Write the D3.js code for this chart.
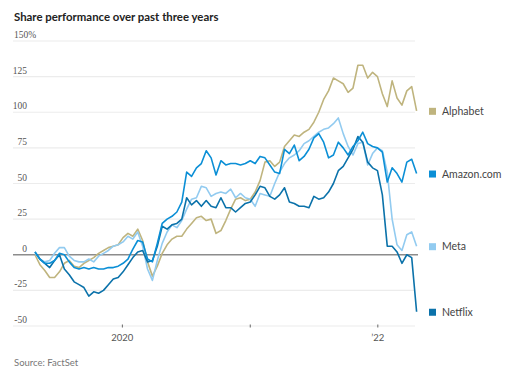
<!DOCTYPE html>
<html><head><meta charset="utf-8">
<script src="https://cdn.jsdelivr.net/npm/d3@7/dist/d3.min.js"></script>
<style>
html,body{margin:0;padding:0;background:#fff;}
svg{display:block;}
</style></head>
<body>
<svg id="chart" width="528" height="376"></svg>
<script>
// Biweekly observations from 2019-04-26 to 2022-04-26 (79 points)
const startDate = "2019-04-26";
const stepDays = 14;
const seriesNames = ["Alphabet", "Amazon.com", "Meta", "Netflix"];
const alphabet = [0,-7,-11,-16,-16,-12,-6,-4,-8,-9,-6,-4,-2,1,3,5,6,7,12,15,13,18,10,-5,-15,-8,1,7,11,13,13,18,22,26,27,24,25,15,17,24,32,39,40,38,39,44,52,65,66,62,65,76,80,84,83,86,88,93,100,109,115,124,122,120,114,117,133,133,124,128,125,113,104,122,110,105,115,118,101];
const amazon = [2,-3,-6,-6,-4,1,0,-5,-9,-10,-9,-10,-9,-10,-10,-9,-9,-8,-6,-3,4,10,9,-3,-5,8,22,25,27,30,37,58,55,61,64,73,68,56,66,63,64,64,63,64,66,64,69,68,63,58,57,74,71,77,66,69,74,82,85,79,68,70,79,75,70,76,80,86,78,76,75,72,51,61,57,51,65,67,57];
const meta = [1,-3,-5,-4,1,5,5,-1,-4,-5,-5,-3,-5,-1,1,3,6,7,9,13,11,16,6,-10,-18,-4,8,16,21,19,24,32,39,40,48,47,41,43,44,43,46,40,43,40,39,34,43,42,41,50,58,64,68,70,73,78,80,83,86,88,89,92,96,85,76,70,78,79,63,71,75,73,58,25,7,3,14,16,6];
const netflix = [2,-3,-6,-9,-4,0,-10,-14,-19,-21,-23,-29,-26,-27,-25,-21,-17,-16,-12,-7,-2,2,3,-5,-4,6,20,18,21,22,25,40,35,38,34,38,34,33,40,33,33,30,33,36,37,42,48,47,41,39,42,47,37,36,34,34,33,41,39,40,44,50,59,62,68,74,83,79,65,61,59,42,6,6,2,-6,0,-2,-40];
const yTicks = [150,125,100,75,50,25,0,-25,-50];
const xTickDates = ["2020-01-01","2021-01-01","2022-01-01"];
const xTickLabels = ["2020","","\u201922"];
const colors = ["#bfb47e","#0b8fd6","#92cbf0","#0b72aa"];

const svg = d3.select("#chart");
const parse = d3.utcParse("%Y-%m-%d");
const t0 = parse(startDate);
const dates = alphabet.map((_, i) => d3.utcDay.offset(t0, i * stepDays));
const allSeries = [alphabet, amazon, meta, netflix];

const x = d3.scaleUtc().domain([t0, parse("2022-04-26")]).range([35, 418]);
const y = d3.scaleLinear().domain([-50, 150]).range([326, 41]);

// Title
svg.append("text").attr("x", 14).attr("y", 20.5)
  .attr("font-family", "Lato, 'Open Sans', sans-serif").attr("font-weight", 700)
  .attr("font-size", 11.4).attr("fill", "#222")
  .text("Share performance over past three years");

// Grid lines and y labels
const grid = svg.append("g");
grid.selectAll("line").data(yTicks.filter(d => d !== 0)).join("line")
  .attr("x1", 13).attr("x2", 415)
  .attr("y1", d => y(d)).attr("y2", d => y(d))
  .attr("stroke", "#ececec").attr("stroke-width", 1.2);

grid.selectAll("text").data(yTicks).join("text")
  .attr("x", d => d === 150 ? 14 : 27)
  .attr("y", d => y(d) - 3)
  .attr("text-anchor", d => d === 150 ? "start" : "end")
  .attr("font-family", "'Liberation Serif', 'DejaVu Serif', serif")
  .attr("font-size", 9.5).attr("fill", "#555")
  .text(d => d === 150 ? "150%" : String(d));

// X axis ticks
const xt = svg.append("g");
xTickDates.forEach((ds, i) => {
  const xv = x(parse(ds));
  xt.append("line").attr("x1", xv).attr("x2", xv).attr("y1", y(-50) - 1.5).attr("y2", y(-50) + 1.5)
    .attr("stroke", "#666").attr("stroke-width", 1);
  if (xTickLabels[i]) {
    xt.append("text").attr("x", xv).attr("y", 340.5).attr("text-anchor", "middle")
      .attr("font-family", "Lato, 'Open Sans', sans-serif").attr("font-size", 9.5).attr("fill", "#555")
      .text(xTickLabels[i]);
  }
});

// Zero line
svg.append("line").attr("x1", 13).attr("x2", 418).attr("y1", y(0)).attr("y2", y(0))
  .attr("stroke", "#8c8c8c").attr("stroke-width", 1.3);

// Lines
const line = d3.line().x((d, i) => x(dates[i])).y(d => y(d)).curve(d3.curveLinear);
const order = [0, 2, 3, 1];
order.forEach(si => {
  svg.append("path").datum(allSeries[si])
    .attr("d", line).attr("fill", "none")
    .attr("stroke", colors[si]).attr("stroke-width", 1.6)
    .attr("stroke-linejoin", "round");
});

// Legend at last values
seriesNames.forEach((name, si) => {
  const last = allSeries[si][allSeries[si].length - 1];
  const yy = y(last);
  svg.append("rect").attr("x", 429).attr("y", yy - 3).attr("width", 7).attr("height", 7)
    .attr("fill", colors[si]);
  svg.append("text").attr("x", 442).attr("y", yy + 4)
    .attr("font-family", "Lato, 'Open Sans', sans-serif").attr("font-size", 10.5).attr("fill", "#444")
    .text(name);
});

// Source
svg.append("text").attr("x", 14).attr("y", 365.5)
  .attr("font-family", "Lato, 'Open Sans', sans-serif").attr("font-size", 9.5).attr("fill", "#777")
  .text("Source: FactSet");
</script>
</body></html>
